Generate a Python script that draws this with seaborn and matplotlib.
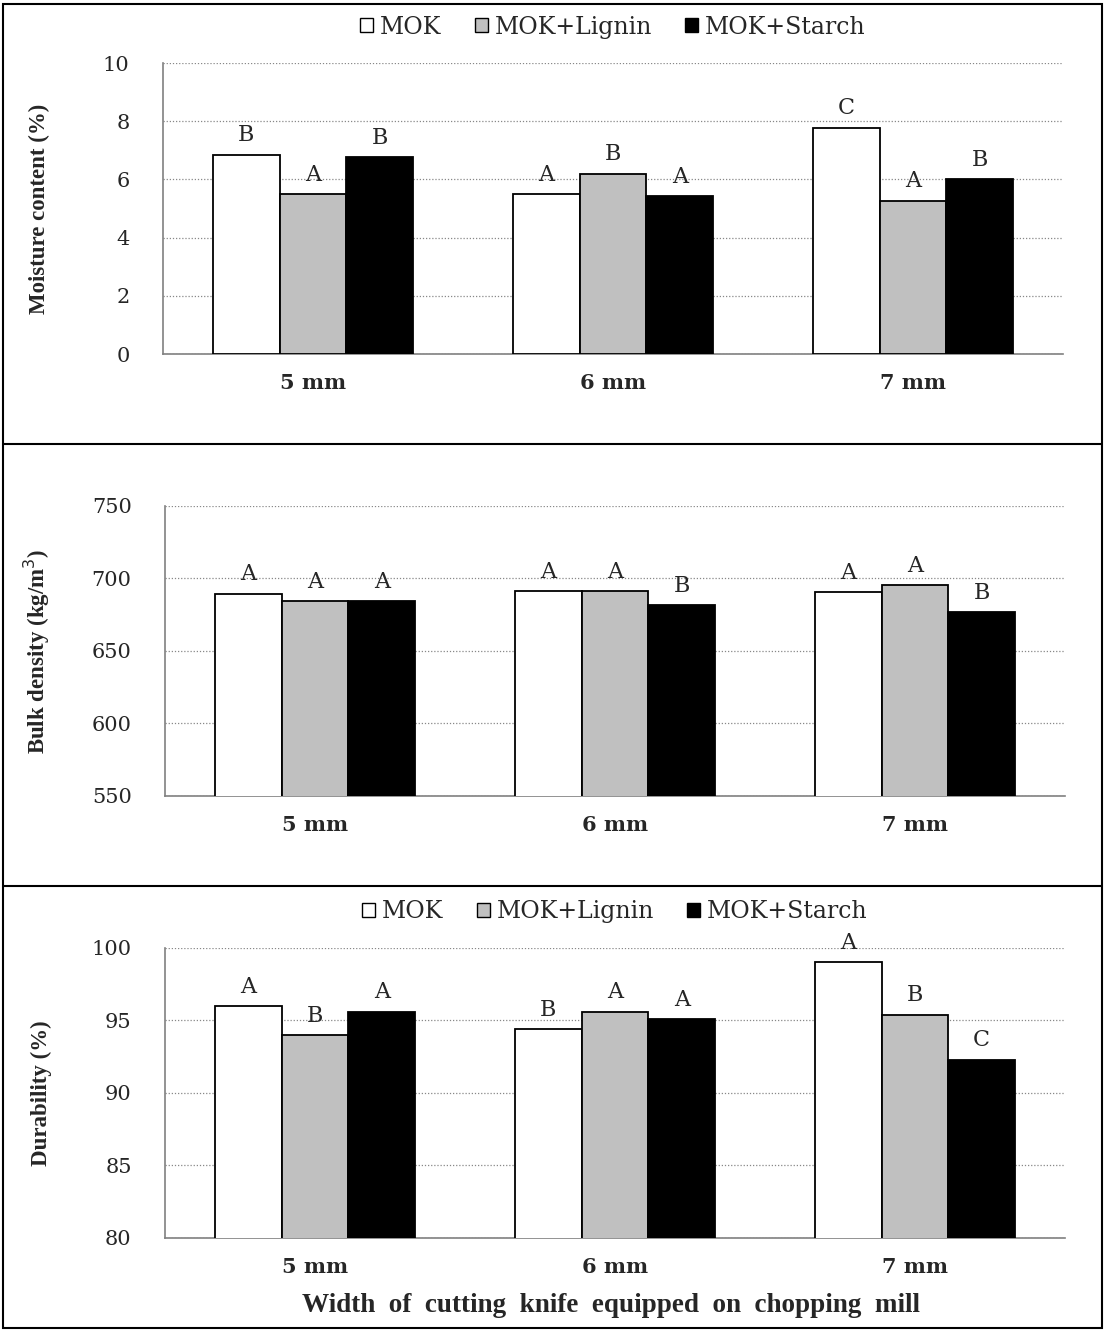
import pandas as pd
import numpy as np
import matplotlib.pyplot as plt
import seaborn as sns
from matplotlib.patches import Rectangle
from matplotlib.lines import Line2D

# datos
widths = ["5 mm", "6 mm", "7 mm"]
treatments = ["MOK", "MOK+Lignin", "MOK+Starch"]

moisture = {"MOK": [6.85, 5.5, 7.78],
            "MOK+Lignin": [5.5, 6.2, 5.27],
            "MOK+Starch": [6.77, 5.42, 6.0]}
moisture_letters = {"MOK": ["B", "A", "C"],
                    "MOK+Lignin": ["A", "B", "A"],
                    "MOK+Starch": ["B", "A", "B"]}

density = {"MOK": [689.5, 691.0, 690.5],
           "MOK+Lignin": [684.5, 691.0, 695.5],
           "MOK+Starch": [684.5, 681.5, 676.5]}
density_letters = {"MOK": ["A", "A", "A"],
                   "MOK+Lignin": ["A", "A", "A"],
                   "MOK+Starch": ["A", "B", "B"]}

durability = {"MOK": [96.0, 94.4, 99.0],
              "MOK+Lignin": [94.0, 95.6, 95.4],
              "MOK+Starch": [95.6, 95.1, 92.3]}
durability_letters = {"MOK": ["A", "B", "A"],
                      "MOK+Lignin": ["B", "A", "B"],
                      "MOK+Starch": ["A", "A", "C"]}

colores = ["#ffffff", "#c0c0c0", "#000000"]

sns.set_style("white")
plt.rcParams['font.family'] = ['DejaVu Serif']
SERIF_T = ['Liberation Serif', 'DejaVu Serif']


def to_df(valores):
    filas = []
    for t in treatments:
        for w, v in zip(widths, valores[t]):
            filas.append({"width": w, "treatment": t, "value": v})
    return pd.DataFrame(filas)


def panel(fig, rect, valores, letras, ylim, yticks, ylabel, legend):
    ax = fig.add_axes(rect)
    df = to_df(valores)
    sns.barplot(data=df, x="width", y="value", hue="treatment", hue_order=treatments,
                order=widths, palette=colores, edgecolor="black", linewidth=1.3,
                width=0.667, gap=0, errorbar=None, legend=False, ax=ax, zorder=3)
    ax.set_ylim(*ylim)
    ax.set_yticks(yticks)
    ax.set_xlim(-0.5, 2.5)
    ax.set_xticks([0, 1, 2])
    ax.set_xticklabels(widths, fontsize=15, fontweight="bold")
    ax.tick_params(axis="x", length=0, pad=14)
    ax.set_xticks([0.5, 1.5, 2.5], minor=True)
    ax.tick_params(axis="x", which="minor", length=5, color="#808080", direction="out")
    ax.tick_params(axis="y", labelsize=15, length=4, color="#808080", pad=20)
    ax.yaxis.grid(True, linestyle=(0, (1, 1.5)), color="#888888", linewidth=0.9, zorder=0)
    ax.set_axisbelow(True)
    for s in ["top", "right"]:
        ax.spines[s].set_visible(False)
    for s in ["left", "bottom"]:
        ax.spines[s].set_color("#808080")
        ax.spines[s].set_linewidth(1.2)
    ax.set_xlabel("")
    ax.set_ylabel(ylabel, fontsize=16.5, fontweight="bold", family=SERIF_T)
    ax.yaxis.set_label_coords(-0.126, 0.5)
    for cont, t in zip(ax.containers, treatments):
        ax.bar_label(cont, labels=letras[t], padding=6, fontsize=16)
    if legend:
        handles = [Rectangle((0, 0), 1, 1, facecolor=c, edgecolor="black", linewidth=1)
                   for c in colores]
        ax.legend(handles, treatments, loc="center", bbox_to_anchor=(0.5, 1.124),
                  ncol=3, frameon=False, fontsize=17, handlelength=0.55, handleheight=0.55,
                  handletextpad=0.3, columnspacing=1.4, borderaxespad=0.0)
    return ax


fig = plt.figure(figsize=(11.05, 13.31), dpi=100)

panel(fig, [0.1475, 0.734, 0.8145, 0.2186], moisture, moisture_letters,
      (0, 10), [0, 2, 4, 6, 8, 10], "Moisture content (%)", True)
panel(fig, [0.1493, 0.402, 0.8145, 0.2179], density, density_letters,
      (550, 750), [550, 600, 650, 700, 750], "Bulk density (kg/m$^3$)", False)
panel(fig, [0.1493, 0.0699, 0.8145, 0.2179], durability, durability_letters,
      (80, 100), [80, 85, 90, 95, 100], "Durability (%)", True)

fig.text(0.553, 0.0195, "Width  of  cutting  knife  equipped  on  chopping  mill",
         ha="center", va="center", fontsize=19.5, fontweight="bold", family=SERIF_T)

# marcos de los paneles
fig.add_artist(Rectangle((0.003, 0.002), 0.994, 0.995, transform=fig.transFigure,
                         fill=False, edgecolor="black", linewidth=1.5))
for yy in [1 - 444 / 1331, 1 - 886 / 1331]:
    fig.add_artist(Line2D([0.003, 0.997], [yy, yy], transform=fig.transFigure,
                          color="black", linewidth=1.5))

plt.savefig("out.png", dpi=100)
